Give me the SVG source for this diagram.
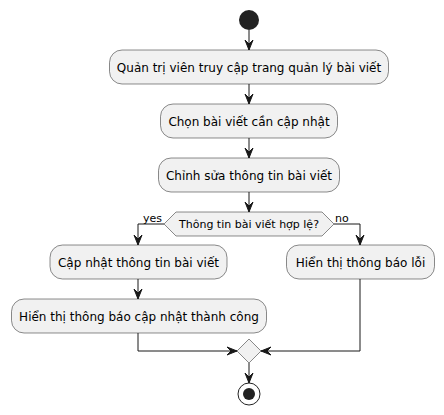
<svg xmlns="http://www.w3.org/2000/svg" width="444" height="415" viewBox="0 0 444 415">
<style>
.act rect{fill:#F1F1F1;stroke:#181818;stroke-width:0.5}
.t{font-family:"DejaVu Sans",sans-serif;font-size:12px;fill:#000;text-anchor:middle}
.s{font-family:"DejaVu Sans",sans-serif;font-size:11px;fill:#000}
.ln{fill:none;stroke:#181818;stroke-width:1}
.ah{fill:#181818;stroke:#181818;stroke-width:1}
.dm{fill:#F1F1F1;stroke:#181818;stroke-width:0.5}
</style>
<rect width="444" height="415" fill="#FFFFFF"/>
<g id="start"><circle cx="249" cy="20" r="10" fill="#222222"/></g>
<g id="n1" class="act"><rect x="109.5" y="50" width="279" height="34" rx="12.5"/><text class="t" x="249" y="71.5">Quản trị viên truy cập trang quản lý bài viết</text></g>
<g id="n2" class="act"><rect x="160.5" y="104" width="177" height="34" rx="12.5"/><text class="t" x="249" y="125.5">Chọn bài viết cần cập nhật</text></g>
<g id="n3" class="act"><rect x="158.5" y="158" width="181" height="34" rx="12.5"/><text class="t" x="249" y="179.5">Chỉnh sửa thông tin bài viết</text></g>
<g id="d1"><polygon class="dm" points="164,224 176,212 322,212 334,224 322,236 176,236"/><text class="s" x="249" y="228" text-anchor="middle">Thông tin bài viết hợp lệ?</text></g>
<g id="n4" class="act"><rect x="50" y="245" width="177" height="34" rx="12.5"/><text class="t" x="138.5" y="266.5">Cập nhật thông tin bài viết</text></g>
<g id="n5" class="act"><rect x="11.5" y="299" width="255" height="34" rx="12.5"/><text class="t" x="139" y="320.5">Hiển thị thông báo cập nhật thành công</text></g>
<g id="n6" class="act"><rect x="286.5" y="245" width="148" height="34" rx="12.5"/><text class="t" x="360.5" y="266.5">Hiển thị thông báo lỗi</text></g>
<g id="d2"><polygon class="dm" points="237,351 249,339 261,351 249,363"/></g>
<g id="end"><circle cx="249" cy="394" r="11" fill="none" stroke="#222222" stroke-width="1"/><circle cx="249" cy="394" r="6" fill="#222222"/></g>
<g id="connectors">
<path class="ln" d="M249,30 V50"/><polygon class="ah" points="245,40 249,50 253,40 249,44"/>
<path class="ln" d="M249,84 V104"/><polygon class="ah" points="245,94 249,104 253,94 249,98"/>
<path class="ln" d="M249,138 V158"/><polygon class="ah" points="245,148 249,158 253,148 249,152"/>
<path class="ln" d="M249,192 V212"/><polygon class="ah" points="245,202 249,212 253,202 249,206"/>
<path class="ln" d="M164,224 H138 V245"/><polygon class="ah" points="134,235 138,245 142,235 138,239"/>
<text class="s" x="143" y="221.5">yes</text>
<path class="ln" d="M334,224 H360 V245"/><polygon class="ah" points="356,235 360,245 364,235 360,239"/>
<text class="s" x="335" y="221.5">no</text>
<path class="ln" d="M138,279 V299"/><polygon class="ah" points="134,289 138,299 142,289 138,293"/>
<path class="ln" d="M138,333 V351 H237"/><polygon class="ah" points="227,347 237,351 227,355 231,351"/>
<path class="ln" d="M360,279 V351 H261"/><polygon class="ah" points="271,347 261,351 271,355 267,351"/>
<path class="ln" d="M249,363 V383"/><polygon class="ah" points="245,373 249,383 253,373 249,377"/>
</g>
</svg>
